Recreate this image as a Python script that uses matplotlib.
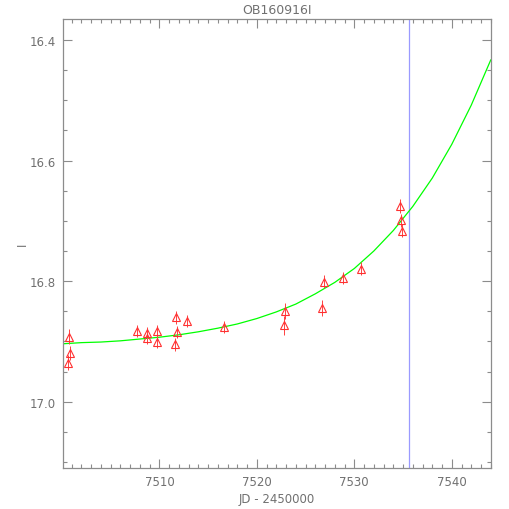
import matplotlib
matplotlib.use("Agg")
import matplotlib.pyplot as plt
from matplotlib.ticker import MultipleLocator

# Observed photometry (JD - 2450000, I mag, error)
jd = [7500.73, 7500.86, 7500.66, 7507.74, 7508.77, 7508.73, 7509.79, 7509.73,
      7511.71, 7511.85, 7511.61, 7512.84, 7516.67, 7522.90, 7522.80, 7526.67,
      7526.84, 7528.89, 7530.70, 7534.64, 7534.78, 7534.88]
mag = [16.892, 16.919, 16.935, 16.883, 16.886, 16.894, 16.882, 16.901,
       16.860, 16.884, 16.905, 16.866, 16.876, 16.849, 16.873, 16.845,
       16.801, 16.794, 16.779, 16.675, 16.699, 16.716]
err = [0.013, 0.012, 0.013, 0.010, 0.010, 0.010, 0.010, 0.010,
       0.011, 0.010, 0.011, 0.010, 0.010, 0.013, 0.016, 0.013,
       0.011, 0.010, 0.010, 0.012, 0.011, 0.011]

# Model curve samples
model_t = [7500, 7502, 7504, 7506, 7508, 7510, 7512, 7514, 7516, 7518, 7520,
           7522, 7524, 7526, 7528, 7530, 7532, 7534, 7536, 7538, 7540, 7542,
           7544]
model_m = [16.904, 16.902, 16.901, 16.899, 16.896, 16.893, 16.889, 16.884,
           16.878, 16.871, 16.862, 16.851, 16.838, 16.821, 16.802, 16.779,
           16.750, 16.716, 16.676, 16.629, 16.573, 16.508, 16.433]

t_now = [7535.6]
title = "OB160916I"
xlabel = "JD - 2450000"
ylabel = "I"
xticks = [7510, 7520, 7530, 7540]
yticks = [16.4, 16.6, 16.8, 17.0]

gray = "#8c8c8c"
txt = "#707070"
fig = plt.figure(figsize=(5.1, 5.1), dpi=100)
ax = fig.add_axes([0.123, 0.0804, 0.840, 0.8804])

ax.plot(model_t, model_m, color="#00ff00", lw=0.9, zorder=2)
for t in t_now:
    ax.axvline(t, color="#9a9aff", lw=0.9, zorder=1)
ax.errorbar(jd, mag, yerr=err, fmt="none", ecolor="#ff4040", elinewidth=0.7,
            capsize=0, zorder=3)
ax.plot(jd, mag, linestyle="none", marker="^", markersize=6,
        markerfacecolor="none", markeredgecolor="#ff3030", markeredgewidth=0.8,
        zorder=4)

ax.set_xlim(7500.08, 7544.04)
ax.set_ylim(17.110, 16.365)
ax.set_xticks(xticks)
ax.set_yticks(yticks)
ax.set_yticklabels([f"{v:.1f}" for v in yticks])
ax.xaxis.set_minor_locator(MultipleLocator(1))
ax.yaxis.set_minor_locator(MultipleLocator(0.05))
ax.tick_params(which="both", direction="in", top=True, right=True,
               color=gray, width=0.8, labelcolor=txt, labelsize=8.5)
ax.tick_params(which="major", length=6.2, pad=5)
ax.tick_params(which="minor", length=3.1)
for s in ax.spines.values():
    s.set_color(gray)
    s.set_linewidth(0.9)

ax.set_title(title, color=txt, fontsize=9, pad=4)
ax.set_xlabel(xlabel, color=txt, fontsize=8.5, labelpad=3)
fig.text(0.043, 0.52, ylabel, rotation=90, color=txt, fontsize=8.5,
         ha="center", va="center")

fig.savefig("out.png", dpi=100)
